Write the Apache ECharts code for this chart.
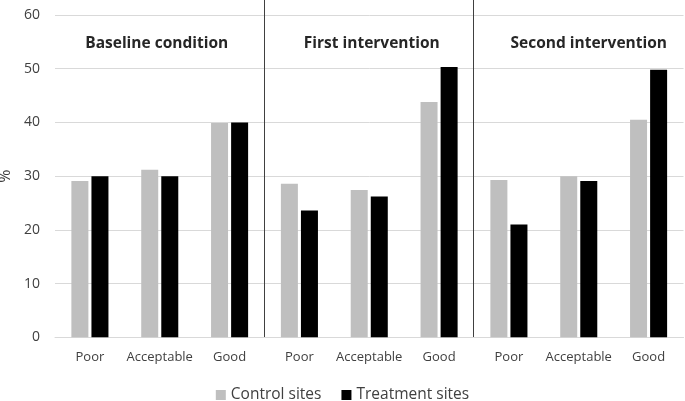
<!DOCTYPE html>
<html><head><meta charset="utf-8">
<script src="https://cdn.jsdelivr.net/npm/echarts@6/dist/echarts.min.js"></script>
<style>html,body{margin:0;padding:0;background:#fff}#c{width:685px;height:401px}</style>
</head><body><div id="c"></div>
<script>
const categories = ['Poor','Acceptable','Good','Poor','Acceptable','Good','Poor','Acceptable','Good'];
const groupTitles = ['Baseline condition','First intervention','Second intervention'];
const controlSites = [29.1, 31.2, 39.9, 28.6, 27.4, 43.8, 29.3, 30.0, 40.5];
const treatmentSites = [30.0, 30.0, 40.0, 23.6, 26.2, 50.3, 21.0, 29.1, 49.8];
const seriesNames = ['Control sites', 'Treatment sites'];
const yMin = 0, yMax = 60, yStep = 10;

const FONT = '"Open Sans", "Noto Sans", sans-serif';
const chart = echarts.init(document.getElementById('c'), null, {renderer: 'canvas'});
const catKeys = categories.map((c, i) => c + '#' + i);

chart.setOption({
  animation: false,
  backgroundColor: '#fff',
  grid: {left: 55, right: 1.5, top: 15, bottom: 63.7, containLabel: false, outerBoundsMode: 'none'},
  legend: {
    data: seriesNames, top: 382, left: 'center',
    itemWidth: 10, itemHeight: 10, itemGap: 20,
    textStyle: {fontFamily: FONT, fontSize: 15.5, color: '#404040'},
    icon: 'rect'
  },
  xAxis: {
    type: 'category', data: catKeys,
    axisLine: {show: true, lineStyle: {color: '#d9d9d9'}},
    axisTick: {show: false},
    axisLabel: {interval: 0, formatter: v => v.split('#')[0], fontFamily: FONT, fontSize: 13, color: '#404040', margin: 13}
  },
  yAxis: {
    type: 'value', min: yMin, max: yMax, interval: yStep,
    name: '%', nameLocation: 'middle', nameGap: 39, nameRotate: 90,
    nameTextStyle: {fontFamily: FONT, fontSize: 16, color: '#404040'},
    axisLine: {show: false}, axisTick: {show: false},
    axisLabel: {fontFamily: FONT, fontSize: 14, color: '#404040', margin: 15},
    splitLine: {lineStyle: {color: '#d9d9d9', width: 1}}
  },
  series: [
    {name: seriesNames[0], type: 'bar', data: controlSites, barWidth: 17, barGap: '18%', itemStyle: {color: '#bfbfbf'}},
    {name: seriesNames[1], type: 'bar', data: treatmentSites, barWidth: 17, itemStyle: {color: '#000000'}}
  ]
});

function drawOverlay() {
  const px = i => chart.convertToPixel({xAxisIndex: 0}, catKeys[i]);
  const y0 = chart.convertToPixel({yAxisIndex: 0}, 0);
  const els = [];
  [3, 6].forEach(b => {
    const x = Math.round((px(b - 1) + px(b)) / 2) - 0.5;
    els.push({type: 'line', shape: {x1: x, y1: 0, x2: x, y2: y0}, style: {stroke: '#404040', lineWidth: 1}, silent: true});
  });
  const offs = [-3, 2.5, 10];
  groupTitles.forEach((t, g) => {
    const cx = px(g * 3 + 1) + offs[g];
    els.push({type: 'text', x: cx, y: 44, style: {text: t, fontFamily: FONT, fontSize: 15.5, fontWeight: 'bold', fill: '#262626', align: 'center', verticalAlign: 'middle'}, silent: true});
  });
  chart.setOption({graphic: {elements: els}});
}
drawOverlay();
</script></body></html>
